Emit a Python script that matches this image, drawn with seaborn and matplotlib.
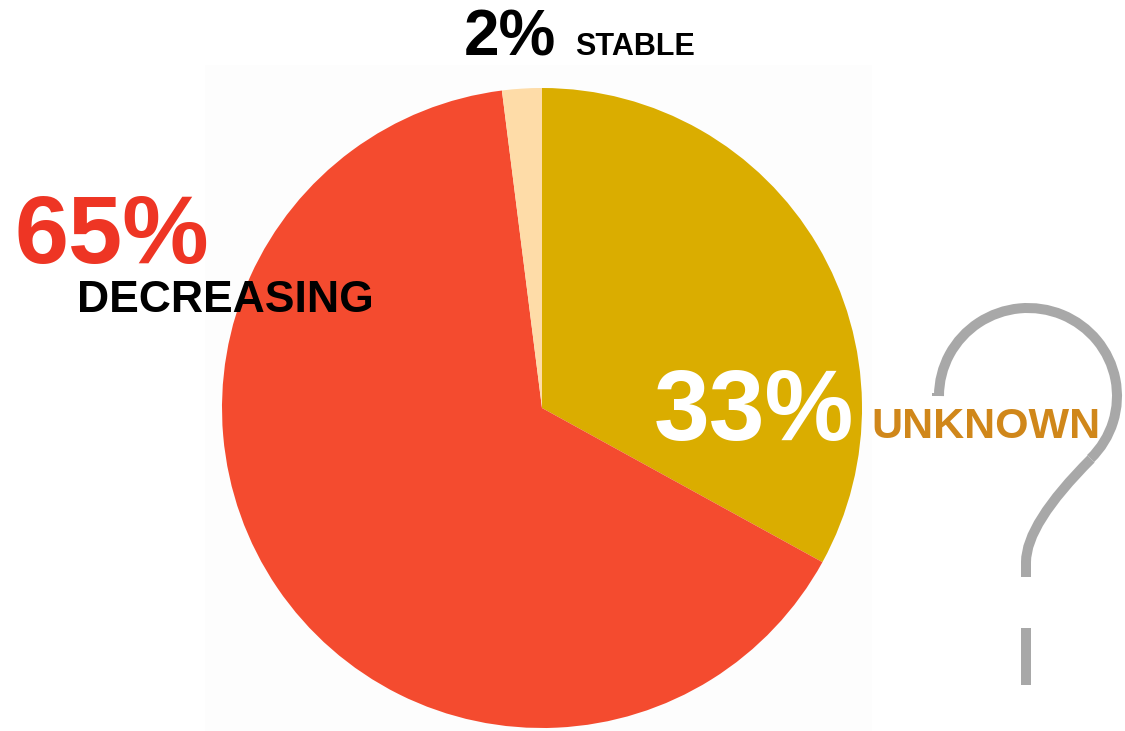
import matplotlib
matplotlib.use("Agg")
import matplotlib.pyplot as plt
import seaborn as sns
from matplotlib.path import Path
from matplotlib.patches import PathPatch, Rectangle, Arc

sns.set_theme(style="white")
plt.rcParams['font.family'] = ['Liberation Sans', 'DejaVu Sans']

# ---- data ----
categories = ["UNKNOWN", "DECREASING", "STABLE"]
shares = [33, 65, 2]
pct_labels = ["33%", "65%", "2%"]
colors = ["#DAAD00", "#F44B2F", "#FEDCA8"]

W, H = 1125, 731
fig = plt.figure(figsize=(W / 100, H / 100), dpi=100)

# overlay axes in pixel coordinates (y down)
ov = fig.add_axes([0, 0, 1, 1])
ov.set_xlim(0, W)
ov.set_ylim(H, 0)
ov.axis("off")
ov.add_patch(Rectangle((205, 65), 667, 666, facecolor="#FDFDFD", edgecolor="none", zorder=0))

# pie axes: centre (542,408), radius 320 px
cx, cy, r = 542, 408, 320
pax = fig.add_axes([(cx - r) / W, (H - (cy + r)) / H, 2 * r / W, 2 * r / H])
pax.pie(shares, colors=colors, startangle=90, counterclock=False,
        wedgeprops=dict(linewidth=0))
pax.set_xlim(-1, 1)
pax.set_ylim(-1, 1)
pax.set_aspect("auto")
pax.axis("off")

# question mark decoration (pixel coords)
qa = fig.add_axes([0, 0, 1, 1], zorder=-1)
qa.set_xlim(0, W)
qa.set_ylim(H, 0)
qa.axis("off")
grey = "#A8A8A8"
lw = 7.2
qa.add_patch(Arc((1028, 396), 178, 176, theta1=-180, theta2=45,
                 color=grey, lw=lw, capstyle="butt"))
qa.plot([937, 937], [396, 393], color=grey, lw=lw, solid_capstyle="butt")
verts = [(1091, 459), (1026, 524), (1026, 562), (1026, 577)]
codes = [Path.MOVETO, Path.CURVE3, Path.CURVE3, Path.LINETO]
qa.add_patch(PathPatch(Path(verts, codes), facecolor="none", edgecolor=grey,
                       lw=lw, capstyle="butt"))
qa.plot([1026, 1026], [628, 685], color=grey, lw=lw, solid_capstyle="butt")

# labels
ov2 = fig.add_axes([0, 0, 1, 1], zorder=5)
ov2.set_xlim(0, W)
ov2.set_ylim(H, 0)
ov2.axis("off")
ov2.patch.set_alpha(0)

ov2.text(112, 263, pct_labels[1], color="#EE3524", fontsize=70, fontweight="bold",
         ha="center", va="baseline")
ov2.text(225, 312, categories[1], color="black", fontsize=32, fontweight="bold",
         ha="center", va="baseline")
ov2.text(510, 55, pct_labels[2], color="black", fontsize=46, fontweight="bold",
         ha="center", va="baseline")
ov2.text(635, 55, categories[2], color="black", fontsize=22, fontweight="bold",
         ha="center", va="baseline")
ov2.text(754, 440, pct_labels[0], color="white", fontsize=72, fontweight="bold",
         ha="center", va="baseline")
ov2.text(986, 438, categories[0], color="#D0871A", fontsize=31, fontweight="bold",
         ha="center", va="baseline")

fig.savefig("out.png", dpi=100, facecolor="white")
